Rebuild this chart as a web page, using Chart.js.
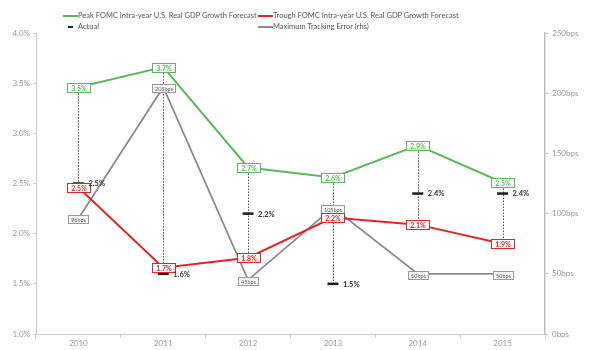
<!DOCTYPE html>
<html>
<head>
<meta charset="utf-8">
<script src="https://cdn.jsdelivr.net/npm/chart.js@4"></script>
<style>
html,body{margin:0;padding:0;background:#fff;}
#wrap{position:relative;width:600px;height:350px;overflow:hidden;}
canvas{position:absolute;left:0;top:0;}
.sw{position:absolute;height:2px;width:15px;}
.lt{position:absolute;font-family:Lato,"Open Sans",sans-serif;font-size:7.5px;color:#555;line-height:10px;white-space:nowrap;}
</style>
</head>
<body>
<div id="wrap">
  <canvas id="c" width="600" height="350" style="width:600px;height:350px"></canvas>
  <div class="sw" style="left:63px;top:15px;background:#5cb85c"></div>
  <div class="lt" style="left:78px;top:11px">Peak FOMC Intra-year U.S. Real GDP Growth Forecast</div>
  <div class="sw" style="left:258px;top:15px;background:#e0262b"></div>
  <div class="lt" style="left:273px;top:11px">Trough FOMC Intra-year U.S. Real GDP Growth Forecast</div>
  <div class="sw" style="left:68px;top:26px;width:5px;height:1.5px;background:#222"></div>
  <div class="lt" style="left:78px;top:22px">Actual</div>
  <div class="sw" style="left:258px;top:26px;background:#8c8c8c"></div>
  <div class="lt" style="left:273px;top:22px">Maximum Tracking Error (rhs)</div>
</div>
<script>
// ---- data ----
const years = ['2010', '2011', '2012', '2013', '2014', '2015'];
const peakForecast = [3.46, 3.66, 2.66, 2.56, 2.88, 2.51];    // % (labels rounded to 0.1)
const troughForecast = [2.46, 1.66, 1.76, 2.16, 2.09, 1.90];  // %
const actualGdp = [2.5, 1.6, 2.2, 1.5, 2.4, 2.4];            // %
const trackingErrorBps = [96, 205, 45, 105, 50, 50];         // bps (rhs)
const pctTicks = [1.0, 1.5, 2.0, 2.5, 3.0, 3.5, 4.0];
const bpsTicks = [0, 50, 100, 150, 200, 250];

const GREEN = '#5cb85c', RED = '#e0262b', GRAY = '#8c8c8c', BLACK = '#1a1a1a';
const FONT = 'Lato, "Open Sans", sans-serif';

function fmtPct(v) { return (Math.round(v * 10) / 10).toFixed(1) + '%'; }

function drawBox(ctx, text, x, y, opt) {
  ctx.font = opt.font;
  const tw = ctx.measureText(text).width;
  const w = Math.round(tw + opt.padX * 2), h = opt.h;
  const bx = Math.round(x - w / 2) + 0.5, by = Math.round(y - h / 2) + 0.5;
  ctx.fillStyle = opt.fill;
  ctx.fillRect(bx, by, w, h);
  ctx.strokeStyle = opt.border;
  ctx.lineWidth = 1;
  ctx.strokeRect(bx, by, w, h);
  ctx.fillStyle = opt.color;
  ctx.textAlign = 'center';
  ctx.textBaseline = 'middle';
  ctx.fillText(text, bx + w / 2, by + h / 2 + 0.5);
}

const overlay = {
  id: 'overlay',
  beforeDatasetsDraw(chart) {
    const ctx = chart.ctx, xs = chart.scales.x, ys = chart.scales.y;
    ctx.save();
    ctx.strokeStyle = '#555';
    ctx.lineWidth = 1;
    ctx.setLineDash([1.5, 1.5]);
    years.forEach((yr, i) => {
      const x = Math.round(xs.getPixelForValue(i)) + 0.5;
      const top = ys.getPixelForValue(Math.max(peakForecast[i], actualGdp[i]));
      const bot = ys.getPixelForValue(Math.min(troughForecast[i], actualGdp[i]));
      ctx.beginPath();
      ctx.moveTo(x, top);
      ctx.lineTo(x, bot);
      ctx.stroke();
    });
    ctx.restore();
  },
  afterDatasetsDraw(chart) {
    const ctx = chart.ctx, xs = chart.scales.x, ys = chart.scales.y, y1 = chart.scales.y1;
    ctx.save();
    // tracking error boxes
    trackingErrorBps.forEach((v, i) => {
      drawBox(ctx, v + 'bps', xs.getPixelForValue(i), y1.getPixelForValue(v) + 1,
        { font: '5.5px ' + FONT, padX: 2.5, h: 8, fill: '#f6f6f6', border: '#9a9a9a', color: '#666' });
    });
    // trough boxes
    troughForecast.forEach((v, i) => {
      drawBox(ctx, fmtPct(v), xs.getPixelForValue(i), ys.getPixelForValue(v),
        { font: 'bold 7px ' + FONT, padX: 3.5, h: 9, fill: '#fff', border: RED, color: RED });
    });
    // peak boxes
    peakForecast.forEach((v, i) => {
      drawBox(ctx, fmtPct(v), xs.getPixelForValue(i), ys.getPixelForValue(v),
        { font: 'bold 7px ' + FONT, padX: 3.5, h: 9, fill: '#fff', border: GREEN, color: GREEN });
    });
    // actual labels
    ctx.font = 'bold 7.5px ' + FONT;
    ctx.fillStyle = '#333';
    ctx.textAlign = 'left';
    ctx.textBaseline = 'middle';
    actualGdp.forEach((v, i) => {
      ctx.fillText(fmtPct(v), xs.getPixelForValue(i) + 10, ys.getPixelForValue(v) + 0.5);
    });
    ctx.restore();
  }
};

new Chart(document.getElementById('c'), {
  type: 'line',
  data: {
    labels: years,
    datasets: [
      {
        label: 'Actual', data: actualGdp, yAxisID: 'y', order: 0,
        showLine: false, pointStyle: 'line', pointRadius: 5.5, pointHoverRadius: 5.5,
        pointBorderWidth: 2.5, borderColor: BLACK, backgroundColor: BLACK
      },
      {
        label: 'Peak FOMC Intra-year U.S. Real GDP Growth Forecast', data: peakForecast,
        yAxisID: 'y', order: 1, borderColor: GREEN, borderWidth: 2, pointRadius: 0, tension: 0
      },
      {
        label: 'Trough FOMC Intra-year U.S. Real GDP Growth Forecast', data: troughForecast,
        yAxisID: 'y', order: 2, borderColor: RED, borderWidth: 2, pointRadius: 0, tension: 0
      },
      {
        label: 'Maximum Tracking Error (rhs)', data: trackingErrorBps,
        yAxisID: 'y1', order: 3, borderColor: GRAY, borderWidth: 1.8, pointRadius: 0, tension: 0
      }
    ]
  },
  options: {
    responsive: false,
    animation: false,
    devicePixelRatio: 1,
    layout: { padding: { top: 33, left: 0, right: 0, bottom: 0 } },
    plugins: { legend: { display: false }, tooltip: { enabled: false } },
    scales: {
      x: {
        type: 'category', offset: true,
        grid: { offset: true, drawOnChartArea: false, tickLength: 4, color: '#ccc' },
        border: { color: '#ccc', width: 1 },
        ticks: { color: '#999', font: { family: FONT, size: 8 }, padding: 1, maxRotation: 0 },
        afterFit: s => { s.height = 16; }
      },
      y: {
        position: 'left', min: 1, max: 4,
        afterBuildTicks: s => { s.ticks = pctTicks.map(v => ({ value: v })); },
        ticks: { color: '#999', font: { family: FONT, size: 8 }, padding: 3, callback: v => Number(v).toFixed(1) + '%' },
        grid: { drawOnChartArea: false, tickLength: 3, color: '#ccc' },
        border: { color: '#ccc', width: 1 },
        afterFit: s => { s.width = 36; }
      },
      y1: {
        position: 'right', min: 0, max: 250,
        afterBuildTicks: s => { s.ticks = bpsTicks.map(v => ({ value: v })); },
        ticks: { color: '#999', font: { family: FONT, size: 8 }, padding: 4, callback: v => v + 'bps' },
        grid: { drawOnChartArea: false, tickLength: 3, color: '#bbb' },
        border: { color: '#bbb', width: 1.5 },
        afterFit: s => { s.width = 55; }
      }
    }
  },
  plugins: [overlay]
});
</script>
</body>
</html>
